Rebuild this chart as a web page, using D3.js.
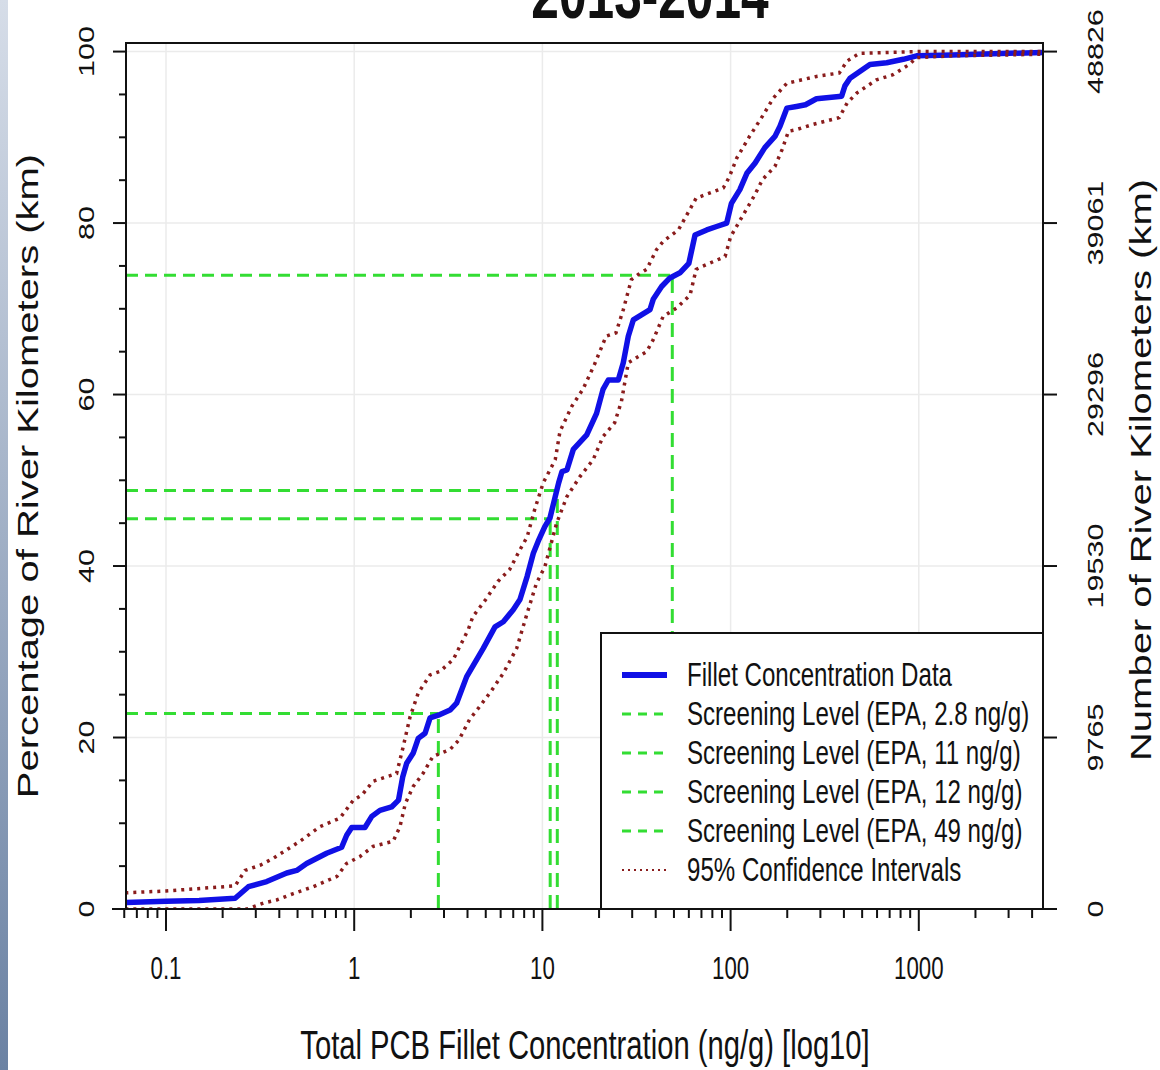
<!DOCTYPE html>
<html>
<head>
<meta charset="utf-8">
<script src="https://cdn.jsdelivr.net/npm/d3@7"></script>
<style>
  html, body { margin: 0; padding: 0; background: #ffffff; }
  svg { display: block; }
  text { font-family: "Liberation Sans", Arial, Helvetica, sans-serif; fill: #111; }
</style>
</head>
<body>
<svg id="chart" width="1160" height="1070"></svg>
<script>
// ---------------- DATA ----------------
const titleText = "2013-2014";
const xTitle = "Total PCB Fillet Concentration (ng/g) [log10]";
const yTitleLeft = "Percentage of River Kilometers (km)";
const yTitleRight = "Number of River Kilometers (km)";

const xMajorTicks = [0.1, 1, 10, 100, 1000];
const xTickLabels = ["0.1", "1", "10", "100", "1000"];
const yTicks = [0, 20, 40, 60, 80, 100];
const yTickLabels = ["0", "20", "40", "60", "80", "100"];
const yRightLabels = ["0", "9765", "19530", "29296", "39061", "48826"];

// Fillet concentration CDF: [concentration ng/g, percent of river km]
const fillet = [
  [0.05,0.7],[0.1,0.9],[0.15,1.0],[0.233,1.25],[0.274,2.6],[0.343,3.2],[0.438,4.2],[0.495,4.5],
  [0.559,5.3],[0.714,6.5],[0.858,7.2],[0.912,8.6],[0.97,9.5],[1.14,9.5],[1.24,10.8],[1.37,11.5],
  [1.58,11.9],[1.72,12.7],[1.81,15.4],[1.90,17.0],[2.06,18.2],[2.19,19.9],[2.38,20.5],[2.53,22.3],
  [2.80,22.6],[3.23,23.2],[3.5,24.0],[3.96,27.1],[4.85,30.4],[5.6,32.9],[6.2,33.5],[7.0,34.9],
  [7.6,36.1],[8.3,38.8],[8.95,41.5],[9.5,42.9],[10.3,44.6],[10.97,45.6],[11.7,48.1],[12.2,49.7],
  [12.7,51.0],[13.5,51.2],[14.6,53.6],[17.2,55.3],[19.4,57.8],[21.0,60.6],[22.4,61.7],[25.3,61.7],
  [26.9,63.7],[28.6,66.8],[30.4,68.7],[37.3,69.9],[38.8,71.1],[43,72.6],[47.6,73.6],[53.8,74.2],
  [60,75.3],[64.7,78.6],[74.7,79.2],[84.3,79.6],[95.3,80.0],[101,82.3],[112,83.9],[122,85.8],
  [135,87.0],[152,88.8],[172,90.1],[183,91.3],[199,93.4],[224,93.6],[250,93.8],[286,94.5],
  [389,94.8],[405,96.0],[431,96.9],[550,98.5],[675,98.7],[827,99.1],[973,99.5],[1500,99.6],
  [3000,99.8],[5000,99.9]
];
// Upper 95% confidence interval
const ciUpper = [
  [0.05,1.8],[0.1,2.1],[0.233,2.7],[0.263,4.5],[0.316,5.1],[0.371,5.9],[0.515,7.9],[0.657,9.6],
  [0.84,10.6],[0.99,12.7],[1.1,13.3],[1.26,14.9],[1.68,15.8],[1.82,18.9],[1.98,22.4],[2.19,25.2],
  [2.53,27.3],[2.85,27.7],[3.36,29.1],[4.04,32.6],[4.27,34.1],[5.0,36.1],[5.8,38.2],[6.7,39.6],
  [7.6,41.9],[8.3,43.4],[9.1,46.6],[10.1,49.7],[11.7,52.4],[12.4,55.7],[14.3,58.6],[16.4,60.6],
  [18.9,63.5],[21.8,66.8],[24.6,67.2],[26.9,69.9],[29.7,73.4],[32.3,74.0],[35.8,74.6],[40.4,76.9],
  [44,77.9],[52.8,79.2],[65.6,82.9],[91.5,84.1],[98,85.3],[108,87.6],[126,90.1],[148,92.5],
  [169,94.6],[199,96.3],[286,97.1],[378,97.5],[416,98.9],[484,99.8],[1000,100],[5000,100]
];
// Lower 95% confidence interval
const ciLower = [
  [0.05,0],[0.27,0],[0.33,0.7],[0.387,1.05],[0.475,1.8],[0.606,2.6],[0.81,3.8],[0.91,5.3],
  [1.07,6.1],[1.26,7.3],[1.61,7.9],[1.75,9.6],[1.87,12.3],[2.06,14.3],[2.32,15.8],[2.62,17.8],
  [3.23,18.6],[3.6,19.7],[4.1,22.1],[4.6,23.5],[5.3,25.3],[6.2,27.5],[7.3,30.4],[8.3,34.5],
  [9.3,38.0],[10.3,39.9],[10.9,41.9],[11.9,45.0],[13.5,48.1],[15.8,50.4],[18.6,52.4],[21,55.1],
  [24.2,56.7],[26.3,59.2],[28.6,63.7],[31.6,64.3],[35.8,65.0],[38.8,66.4],[43.8,69.1],[51.7,70.1],
  [60.9,71.6],[65.6,74.6],[70,74.9],[93.5,76.1],[100,78.4],[117,81.0],[133,83.1],[148,85.1],
  [172,86.6],[188,88.6],[203,90.7],[224,90.9],[274,91.5],[378,92.3],[416,94.0],[470,95.2],
  [596,96.7],[729,97.3],[890,98.5],[973,99.3],[1500,99.5],[5000,99.7]
];

// Screening levels (EPA)
const screenConc = [2.8, 11, 12, 49];
const screenPct = [22.8, 45.5, 48.8, 73.9];

const legendLabels = [
  "Fillet Concentration Data",
  "Screening Level (EPA, 2.8 ng/g)",
  "Screening Level (EPA, 11 ng/g)",
  "Screening Level (EPA, 12 ng/g)",
  "Screening Level (EPA, 49 ng/g)",
  "95% Confidence Intervals"
];

// ---------------- LAYOUT ----------------
const SX = 0.73;            // horizontal compression of text (image aspect)
const box = {left: 126, right: 1043, top: 43, bottom: 909};
const BLUE = "#1010e6", GREEN = "#33dd33", CI = "#8a1c1c";

const svg = d3.select("#chart");

const defs = svg.append("defs");
const grad = defs.append("linearGradient").attr("id", "strip").attr("x1", 0).attr("y1", 0).attr("x2", 0).attr("y2", 1);
grad.append("stop").attr("offset", "0%").attr("stop-color", "#d6dde8");
grad.append("stop").attr("offset", "100%").attr("stop-color", "#6b82a3");
defs.append("clipPath").attr("id", "plotclip").append("rect")
  .attr("x", box.left).attr("y", box.top).attr("width", box.right - box.left).attr("height", box.bottom - box.top);

svg.append("rect").attr("x", 0).attr("y", 0).attr("width", 8).attr("height", 1070).attr("fill", "url(#strip)");

const x = d3.scaleLog().domain([0.1, 1000]).range([166, 918.8]);
const y = d3.scaleLinear().domain([0, 101]).range([box.bottom, box.top]);

function txt(px, py, str, size, opts = {}) {
  const g = svg.append("g").attr("transform", `translate(${px},${py}) scale(${SX},1)` + (opts.rotate ? ` rotate(${opts.rotate})` : ""));
  return g.append("text").attr("x", 0).attr("y", 0)
    .attr("text-anchor", opts.anchor || "middle")
    .attr("font-size", size)
    .attr("font-weight", opts.bold ? "bold" : "normal")
    .text(str);
}

// grid
const grid = svg.append("g");
grid.selectAll("line.gx").data(xMajorTicks).join("line")
  .attr("x1", d => x(d)).attr("x2", d => x(d)).attr("y1", box.top).attr("y2", box.bottom)
  .attr("stroke", "#ebebeb").attr("stroke-width", 1.5);
grid.selectAll("line.gy").data(yTicks).join("line")
  .attr("x1", box.left).attr("x2", box.right).attr("y1", d => y(d)).attr("y2", d => y(d))
  .attr("stroke", "#ebebeb").attr("stroke-width", 1.5);

// screening lines
const scr = svg.append("g").attr("clip-path", "url(#plotclip)");
screenConc.forEach((c, i) => {
  scr.append("line").attr("x1", box.left).attr("x2", x(c)).attr("y1", y(screenPct[i])).attr("y2", y(screenPct[i]))
    .attr("stroke", GREEN).attr("stroke-width", 3).attr("stroke-dasharray", "12,7");
  scr.append("line").attr("x1", x(c)).attr("x2", x(c)).attr("y1", y(0)).attr("y2", y(screenPct[i]))
    .attr("stroke", GREEN).attr("stroke-width", 3).attr("stroke-dasharray", "14,8");
});

// curves
const line = d3.line().x(d => x(d[0])).y(d => y(d[1]));
const curves = svg.append("g").attr("clip-path", "url(#plotclip)");
curves.append("path").datum(fillet).attr("d", line).attr("fill", "none")
  .attr("stroke", BLUE).attr("stroke-width", 5.5).attr("stroke-linejoin", "round");
[ciUpper, ciLower].forEach(s => {
  curves.append("path").datum(s).attr("d", line).attr("fill", "none")
    .attr("stroke", CI).attr("stroke-width", 3.5).attr("stroke-dasharray", "3,5");
});

// box
svg.append("rect").attr("x", box.left).attr("y", box.top).attr("width", box.right - box.left).attr("height", box.bottom - box.top)
  .attr("fill", "none").attr("stroke", "#111").attr("stroke-width", 2);

// x axis
const xMinor = [];
for (let e = -2; e <= 3; e++) for (let m = 2; m <= 9; m++) {
  const v = m * Math.pow(10, e);
  if (v >= 0.06 && v <= 4000) xMinor.push(v);
}
const xa = svg.append("g").attr("stroke", "#111").attr("stroke-width", 2);
xa.append("line").attr("x1", 112).attr("x2", 1056).attr("y1", box.bottom).attr("y2", box.bottom);
xa.selectAll("line.mj").data(xMajorTicks).join("line").attr("class", "mj")
  .attr("x1", d => x(d)).attr("x2", d => x(d)).attr("y1", box.bottom).attr("y2", box.bottom + 22);
xa.selectAll("line.mn").data(xMinor).join("line").attr("class", "mn")
  .attr("x1", d => x(d)).attr("x2", d => x(d)).attr("y1", box.bottom).attr("y2", box.bottom + 9);
xMajorTicks.forEach((v, i) => txt(x(v), 979, xTickLabels[i], 30.5));
txt(585, 1059, xTitle, 40);

// y axis left
const yMinor = d3.range(0, 101, 5).filter(v => v % 20 !== 0);
const ya = svg.append("g").attr("stroke", "#111").attr("stroke-width", 2);
ya.selectAll("line.mj").data(yTicks).join("line")
  .attr("x1", box.left - 13).attr("x2", box.left).attr("y1", d => y(d)).attr("y2", d => y(d));
ya.selectAll("line.mn").data(yMinor).join("line")
  .attr("x1", box.left - 7).attr("x2", box.left).attr("y1", d => y(d)).attr("y2", d => y(d));
yTicks.forEach((v, i) => txt(94, y(v), yTickLabels[i], 30.5, {rotate: -90}));
txt(38, 476, yTitleLeft, 40, {rotate: -90});

// y axis right
ya.selectAll("line.rt").data(yTicks).join("line").attr("class", "rt")
  .attr("x1", box.right).attr("x2", box.right + 14).attr("y1", d => y(d)).attr("y2", d => y(d));
yTicks.forEach((v, i) => txt(1103, y(v), yRightLabels[i], 30.5, {rotate: -90}));
txt(1151, 470, yTitleRight, 40, {rotate: -90});

// title (partly above the top edge, as in the reference)
txt(650, 18, titleText, 68, {bold: true});

// legend
const lg = {left: 601, top: 633, right: box.right, bottom: box.bottom};
svg.append("rect").attr("x", lg.left).attr("y", lg.top).attr("width", lg.right - lg.left).attr("height", lg.bottom - lg.top)
  .attr("fill", "#fff").attr("stroke", "#111").attr("stroke-width", 2);
const rows = legendLabels.map((d, i) => 675 + i * 39);
legendLabels.forEach((lab, i) => {
  const ry = rows[i];
  const l = svg.append("line").attr("x1", 622).attr("x2", 667).attr("y1", ry).attr("y2", ry);
  if (i === 0) l.attr("stroke", BLUE).attr("stroke-width", 6);
  else if (i < 5) l.attr("stroke", GREEN).attr("stroke-width", 3).attr("stroke-dasharray", "9,7");
  else l.attr("stroke", CI).attr("stroke-width", 2).attr("stroke-dasharray", "2,4");
  txt(687, ry + 11, lab, 33, {anchor: "start"});
});
</script>
</body>
</html>
